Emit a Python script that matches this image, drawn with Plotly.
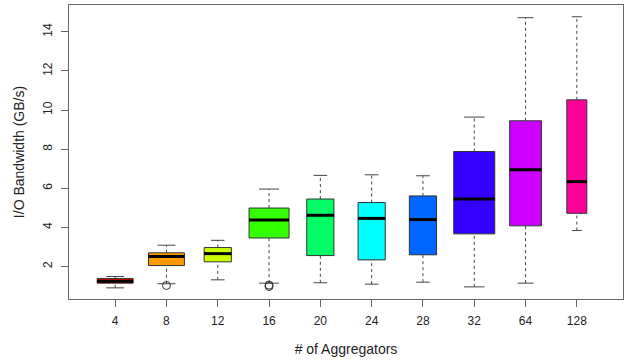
import plotly.graph_objects as go

labels = ["4", "8", "12", "16", "20", "24", "28", "32", "64", "128"]
colors = ["#FF0000", "#FF9900", "#CCFF00", "#33FF00", "#00FF66",
          "#00FFFF", "#0066FF", "#3300FF", "#CC00FF", "#FF0099"]
whisker_low = [0.91, 1.12, 1.32, 1.15, 1.17, 1.10, 1.20, 0.96, 1.15, 3.84]
q1 = [1.15, 2.05, 2.24, 3.46, 2.56, 2.34, 2.60, 3.67, 4.08, 4.72]
median = [1.25, 2.51, 2.66, 4.38, 4.62, 4.46, 4.40, 5.45, 6.95, 6.34]
q3 = [1.39, 2.70, 2.97, 4.99, 5.45, 5.27, 5.61, 7.88, 9.45, 10.52]
whisker_high = [1.49, 3.09, 3.34, 5.96, 6.66, 6.69, 6.64, 9.64, 14.72, 14.77]
box_widths = [0.70, 0.70, 0.53, 0.78, 0.53, 0.53, 0.53, 0.80, 0.62, 0.39]
outlier_group = [2, 4, 4]
outlier_value = [1.03, 1.05, 0.98]

positions = list(range(1, len(labels) + 1))

fig = go.Figure()
wline = "#444444"
for i, p in enumerate(positions):
    w = box_widths[i]
    # dashed whiskers
    fig.add_trace(go.Scatter(x=[p, p], y=[whisker_low[i], q1[i]], mode="lines",
                             line=dict(color=wline, width=1, dash="3px,3px"),
                             showlegend=False, hoverinfo="skip"))
    fig.add_trace(go.Scatter(x=[p, p], y=[q3[i], whisker_high[i]], mode="lines",
                             line=dict(color=wline, width=1, dash="3px,3px"),
                             showlegend=False, hoverinfo="skip"))
    # staples
    for v in (whisker_low[i], whisker_high[i]):
        fig.add_trace(go.Scatter(x=[p - w / 4, p + w / 4], y=[v, v], mode="lines",
                                 line=dict(color=wline, width=1),
                                 showlegend=False, hoverinfo="skip"))
    # box
    fig.add_trace(go.Box(x=[p], q1=[q1[i]], median=[median[i]], q3=[q3[i]],
                         lowerfence=[q1[i]], upperfence=[q3[i]],
                         width=w, fillcolor=colors[i],
                         line=dict(color="#333333", width=1),
                         whiskerwidth=0, showlegend=False, name=labels[i]))
    # thick median
    fig.add_trace(go.Scatter(x=[p - w / 2, p + w / 2], y=[median[i], median[i]],
                             mode="lines", line=dict(color="black", width=3),
                             showlegend=False, hoverinfo="skip"))

fig.add_trace(go.Scatter(x=[positions[g - 1] for g in outlier_group], y=outlier_value,
                         mode="markers",
                         marker=dict(symbol="circle-open", size=8,
                                     color="#333333", line=dict(width=1)),
                         showlegend=False))

axis_common = dict(showline=True, mirror=True, linecolor="#666666", linewidth=1,
                   ticks="outside", ticklen=7, tickcolor="#666666",
                   showgrid=False, zeroline=False, automargin=False,
                   tickfont=dict(family="Liberation Sans, Arial", size=12, color="#222222"))

fig.update_layout(
    width=626, height=362,
    margin=dict(l=69, r=3, t=5, b=63),
    plot_bgcolor="white", paper_bgcolor="white",
    font=dict(family="Liberation Sans, Arial", size=12, color="#222222"),
    xaxis=dict(range=[0.1, 10.9], tickmode="array", tickvals=positions, ticktext=labels,
               ticklabelstandoff=4,
               title=dict(text="# of Aggregators", standoff=16), **axis_common),
    yaxis=dict(range=[0.34, 15.37], tickmode="array", tickvals=[2, 4, 6, 8, 10, 12, 14],
               tickangle=-90, ticklabelstandoff=4,
               title=dict(text="I/O Bandwidth (GB/s)", standoff=13),
               **axis_common),
)

fig.write_html("out.html", config={"displayModeBar": False},
               post_script="document.body.style.margin='0';")
